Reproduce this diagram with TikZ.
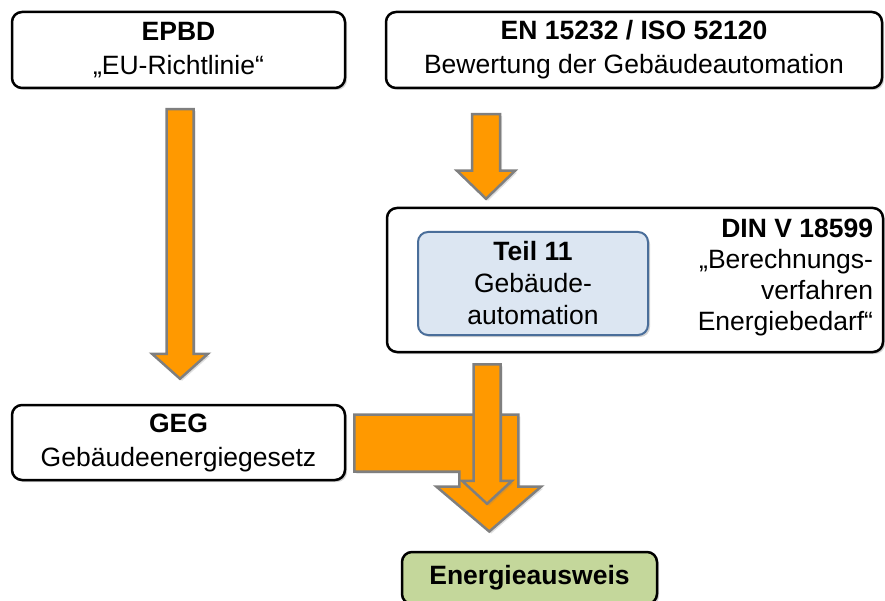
\documentclass[tikz,border=0pt]{standalone}
\usepackage{fontspec}
\setmainfont{Liberation Sans}
\usetikzlibrary{calc, shadows}
\definecolor{arroworange}{HTML}{FF9900}
\definecolor{arrowgray}{HTML}{7F7F7F}
\definecolor{partfill}{HTML}{DCE6F2}
\definecolor{partline}{HTML}{4A6E9A}
\definecolor{passfill}{HTML}{C4D79B}
\tikzset{
box/.style = {draw, rounded corners=10pt, line width=2.5pt, fill=white,
              align=center, minimum width=#1, inner sep=4pt,
              drop shadow={shadow xshift=2pt, shadow yshift=-2pt, opacity=0.35}},
box/.default = 100pt,
orangearrow/.style = {fill=arroworange, draw=arrowgray, line width=2.5pt,
              line join=miter,
              drop shadow={shadow xshift=2pt, shadow yshift=-2pt, opacity=0.25}}
}
% vertical block arrow: from, tip, half shaft, half head, head length
\newcommand{\fatarrow}[5]{\draw[orangearrow] let \p1=(#1), \p2=(#2) in
  (\x1-#3,\y1) -- (\x1+#3,\y1) -- (\x1+#3,\y2+#5) -- (\x1+#4,\y2+#5)
  -- (\x2,\y2) -- (\x1-#4,\y2+#5) -- (\x1-#3,\y2+#5) -- cycle;}

\begin{document}
\begin{tikzpicture}[x=1pt, y=-1pt, font=\fontsize{26.5}{34}\selectfont]
        \useasboundingbox (0,0) rectangle (885,601);
        \node[box=333pt, minimum height=76pt] (epbd) at (178.5,50) {\textbf{EPBD}\\„EU-Richtlinie“};
        \node[box=496pt, minimum height=76pt] (en) at (634,50) {\textbf{EN 15232 / ISO 52120}\\Bewertung der Gebäudeautomation};
        \node[box=496pt, minimum height=144pt] (din) at (635,280) {};
        \node[box=230pt, minimum height=103pt, fill=partfill, draw=partline, line width=2pt] (teil) at (533,283.5) {\textbf{Teil 11}\\[-2pt]Gebäude-\\[-2pt]automation};
        \node[align=right, anchor=north east, inner sep=0pt] (dintext) at ($(din.north east)+(-11,12)$) {\textbf{DIN V 18599}\\[-3pt]„Berechnungs-\\[-3pt]verfahren\\[-3pt]Energiebedarf“};
        \node[box=333pt, minimum height=75pt] (geg) at (178.5,442.5) {\textbf{GEG}\\Gebäudeenergiegesetz};
        \node[box=255pt, minimum height=52pt, fill=passfill] (ausweis) at (529.5,578) {\textbf{Energieausweis}};

        \coordinate (a1s) at ($(epbd.south)+(1.5,20)$);
        \coordinate (a1e) at ($(a1s|-geg.north)+(0,-25)$);
        \coordinate (a2s) at ($(en.south)+(-148,25)$);
        \coordinate (a2e) at ($(a2s|-din.north)+(0,-8)$);
        \coordinate (a3s) at ($(din.south)+(-148,11)$);
        \coordinate (a3e) at ($(a3s|-ausweis.north)+(0,-47)$);

        \fatarrow{a1s}{a1e}{13.5pt}{28pt}{25pt}
        \fatarrow{a2s}{a2e}{14pt}{29pt}{28pt}
        \draw[orangearrow] let \p1=(geg.east) in
          (\x1+8pt,\y1+28pt) -- (\x1+172pt,\y1+28pt) -- (\x1+172pt,\y1-44pt)
          -- (\x1+195pt,\y1-44pt) -- (\x1+143pt,\y1-89pt) -- (\x1+90pt,\y1-44pt)
          -- (\x1+113pt,\y1-44pt) -- (\x1+113pt,\y1-29pt) -- (\x1+8pt,\y1-29pt) -- cycle;
        \fatarrow{a3s}{a3e}{13.5pt}{25pt}{23pt}
\end{tikzpicture}
\end{document}
